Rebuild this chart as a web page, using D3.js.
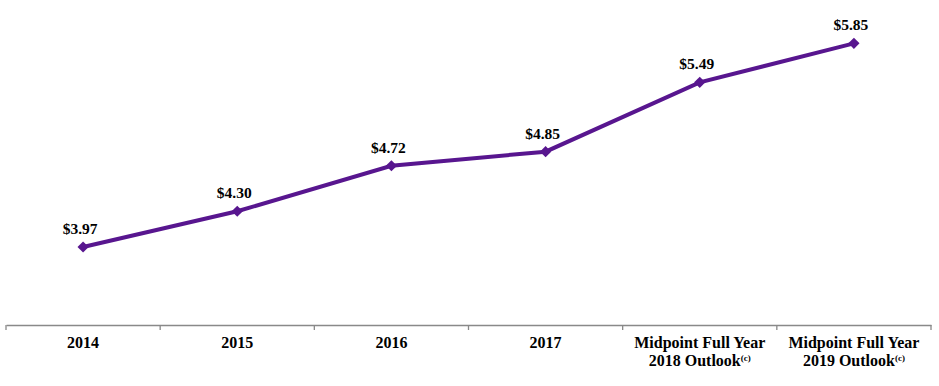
<!DOCTYPE html>
<html lang="en">
<head>
  <meta charset="UTF-8">
  <title>EPS trend</title>
  <style>
    body { margin: 0; background: #fff; }
  </style>
</head>
<body>
  <svg id="svg" width="939" height="386"></svg>

  <script src="https://d3js.org/d3.v7.min.js"></script>
  <script>
    // chart data
    const categories = ['2014', '2015', '2016', '2017', '2018o', '2019o']
    const labelLine1 = ['2014', '2015', '2016', '2017', 'Midpoint Full Year', 'Midpoint Full Year']
    const labelLine2 = ['', '', '', '', '2018 Outlook', '2019 Outlook']
    const values = [3.97, 4.30, 4.72, 4.85, 5.49, 5.85]

    const FONT = "'Liberation Serif', 'Times New Roman', serif"

    const svg = d3.select('#svg')
      .attr('font-family', FONT)
      .attr('font-weight', 'bold')
    const axisY = 325

    const xscale = d3.scaleBand()
      .domain(categories)
      .range([6, 931])

    const yscale = d3.scaleLinear()
      .domain([3.25, 6.25])
      .range([axisY, 0])

    const cx = d => xscale(d) + xscale.bandwidth() / 2

    // bottom axis
    const bottomAxis = d3.axisBottom(xscale).tickSize(0).tickFormat('')
    const ax = svg.append('g')
      .attr('transform', `translate(0, ${axisY})`)
      .call(bottomAxis)
    ax.select('.domain').attr('stroke', '#898989').attr('stroke-width', 1.3)

    // boundary ticks
    const bounds = categories.map(c => xscale(c)).concat([xscale(categories[categories.length - 1]) + xscale.bandwidth()])
    ax.selectAll('.bound')
      .data(bounds)
      .enter()
      .append('line')
      .attr('x1', d => d).attr('x2', d => d)
      .attr('y1', 0).attr('y2', 5)
      .attr('stroke', '#898989')
      .attr('stroke-width', 1.3)

    // category labels
    const labels = svg.append('g')
    categories.forEach((c, i) => {
      labels.append('text')
        .attr('x', cx(c))
        .attr('y', 348)
        .attr('text-anchor', 'middle')
        .attr('font-family', FONT)
        .attr('font-size', 16)
        .attr('fill', '#000')
        .text(labelLine1[i])
      if (labelLine2[i]) {
        const t2 = labels.append('text')
          .attr('x', cx(c))
          .attr('y', 366)
          .attr('text-anchor', 'middle')
          .attr('font-family', FONT)
          .attr('font-size', 16)
          .attr('fill', '#000')
        t2.append('tspan').text(labelLine2[i])
        t2.append('tspan').attr('font-size', 9).attr('dy', -5).text('(c)')
      }
    })

    const pts = categories.map((c, i) => ({ c: c, v: values[i] }))

    // line
    const line = d3.line()
      .x(d => cx(d.c))
      .y(d => yscale(d.v))

    svg.append('path')
      .datum(pts)
      .attr('fill', 'none')
      .attr('stroke', '#58168F')
      .attr('stroke-width', 4)
      .attr('d', line)

    // diamond markers
    svg.append('g')
      .selectAll('path')
      .data(pts)
      .enter()
      .append('path')
      .attr('d', d3.symbol().type(d3.symbolDiamond2).size(80))
      .attr('transform', d => `translate(${cx(d.c)}, ${yscale(d.v)})`)
      .attr('fill', '#58168F')

    // value labels
    svg.append('g')
      .selectAll('text')
      .data(pts)
      .enter()
      .append('text')
      .attr('x', d => cx(d.c) - 3)
      .attr('y', d => yscale(d.v) - 13)
      .attr('text-anchor', 'middle')
      .attr('font-family', FONT)
      .attr('font-size', 15.5)
      .attr('fill', '#000')
      .text(d => '$' + d.v.toFixed(2))
  </script>
</body>
</html>
